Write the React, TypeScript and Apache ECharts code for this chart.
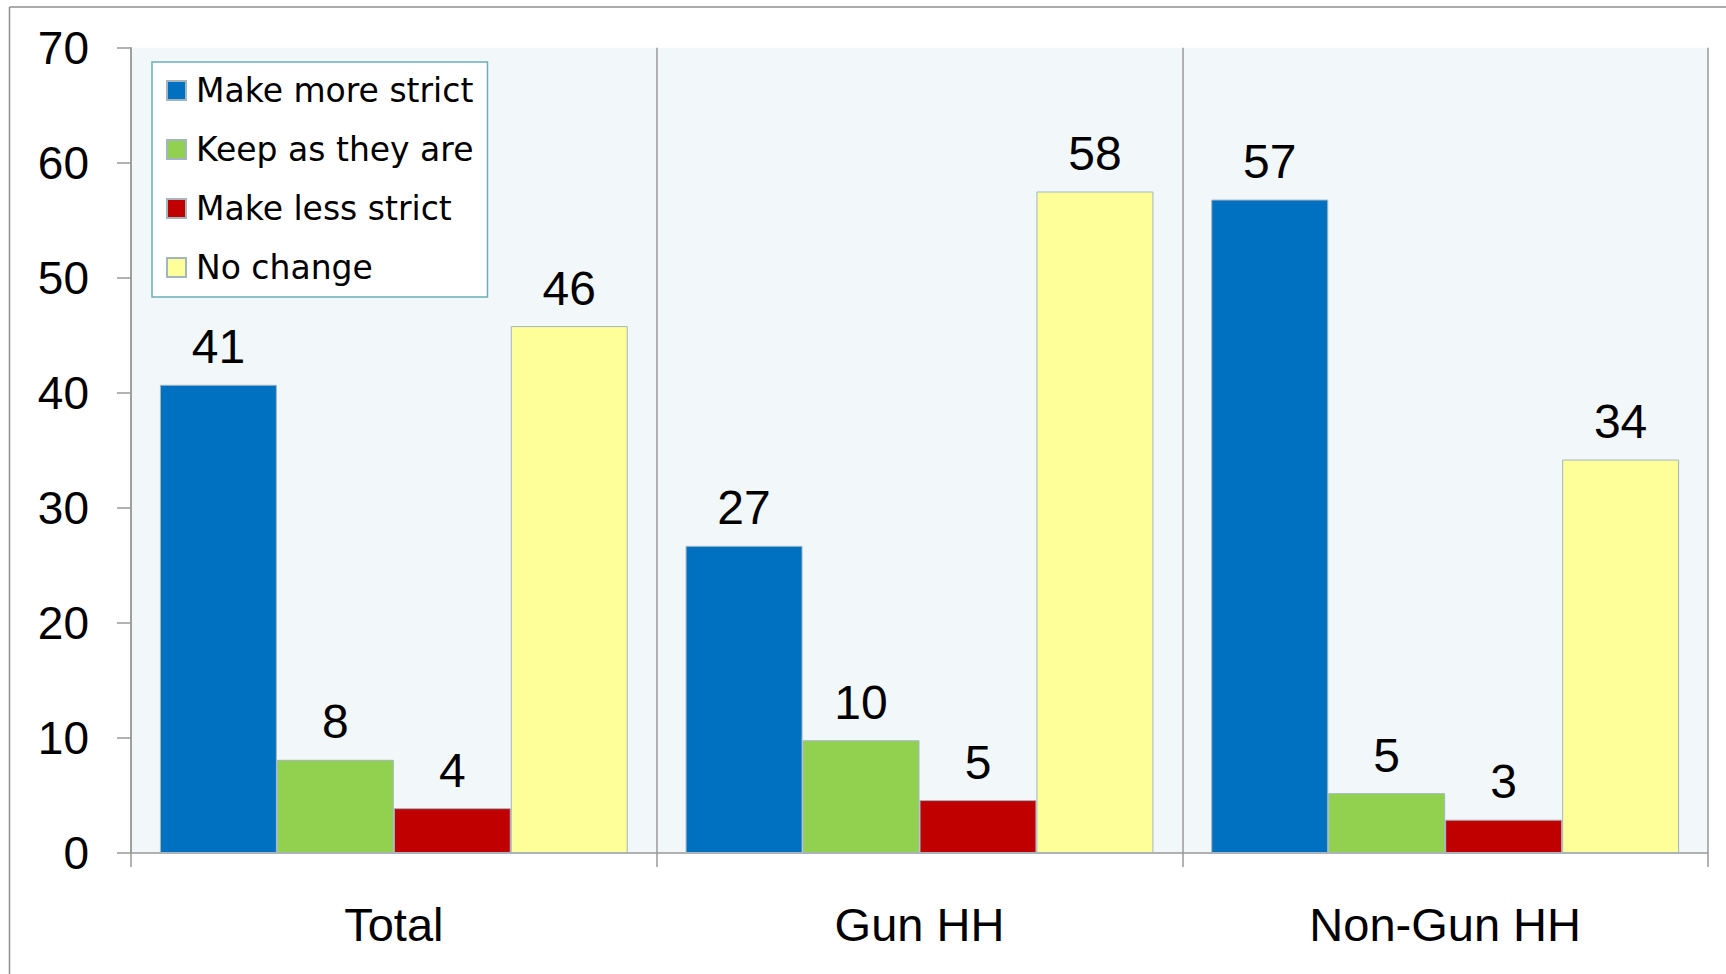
import React, { useEffect, useRef } from "react";
import * as echarts from "echarts";

const categories = ["Total", "Gun HH", "Non-Gun HH"];
const seriesNames = ["Make more strict", "Keep as they are", "Make less strict", "No change"];
const makeMoreStrict = [40.7, 26.7, 56.8];
const keepAsTheyAre = [8.1, 9.8, 5.2];
const makeLessStrict = [3.9, 4.6, 2.9];
const noChange = [45.8, 57.5, 34.2];
const seriesValues = [makeMoreStrict, keepAsTheyAre, makeLessStrict, noChange];
const seriesColors = ["#0070C0", "#92D050", "#C00000", "#FFFF99"];
const yTicks = { min: 0, max: 70, interval: 10 };

const FONT = "'Liberation Sans', Arial, sans-serif";

export default function App() {
  const ref = useRef<HTMLDivElement>(null);
  useEffect(() => {
    if (!ref.current) return;
    const chart = echarts.init(ref.current, undefined, { renderer: "svg" });
    chart.setOption({
      animation: false,
      backgroundColor: "#ffffff",
      graphic: [
        { type: "line", shape: { x1: 9.5, y1: 7, x2: 1726, y2: 7 }, style: { stroke: "#8f8f8f", lineWidth: 1.5 } },
        { type: "line", shape: { x1: 9.5, y1: 7, x2: 9.5, y2: 974 }, style: { stroke: "#8f8f8f", lineWidth: 1.5 } },
      ],
      legend: {
        orient: "vertical",
        left: 152,
        top: 62,
        data: seriesNames,
        icon: "rect",
        itemWidth: 19,
        itemHeight: 19,
        itemGap: 26,
        padding: [12, 14, 13, 14],
        backgroundColor: "#ffffff",
        borderColor: "#6aaeb8",
        borderWidth: 1.5,
        textStyle: {
          fontFamily: "'DejaVu Sans', sans-serif",
          fontSize: 33,
          color: "#000",
          lineHeight: 32,
          padding: [0, 0, 0, 5],
        },
      },
      grid: {
        left: 131,
        right: 18,
        top: 47.7,
        bottom: 121,
        show: true,
        backgroundColor: "#F2F7FA",
        borderWidth: 0,
      },
      xAxis: {
        type: "category",
        data: categories,
        axisLine: { show: true, lineStyle: { color: "#999999", width: 1.5 } },
        axisTick: { show: true, length: 14, lineStyle: { color: "#999999", width: 1.5 } },
        splitLine: { show: true, lineStyle: { color: "#999999", width: 1.5 } },
        axisLabel: {
          fontFamily: FONT,
          fontSize: 47,
          color: "#000",
          margin: 48,
          lineHeight: 47,
        },
      },
      yAxis: {
        type: "value",
        min: yTicks.min,
        max: yTicks.max,
        interval: yTicks.interval,
        axisLine: { show: true, lineStyle: { color: "#999999", width: 1.5 } },
        axisTick: { show: true, length: 14, lineStyle: { color: "#999999", width: 1.5 } },
        splitLine: { show: false },
        axisLabel: {
          fontFamily: FONT,
          fontSize: 46,
          color: "#000",
          margin: 42,
          lineHeight: 46,
        },
      },
      series: seriesNames.map((name, i) => ({
        name,
        type: "bar",
        data: seriesValues[i],
        barGap: "0%",
        barCategoryGap: "11%",
        itemStyle: { color: seriesColors[i], borderColor: "#A3B6BF", borderWidth: 1 },
        label: {
          show: true,
          position: "top",
          distance: 14,
          fontFamily: FONT,
          fontSize: 48,
          lineHeight: 48,
          color: "#000",
          formatter: (p: any) => String(Math.round(p.value)),
        },
      })),
    });
    return () => chart.dispose();
  }, []);
  return (
    <div
      ref={ref}
      style={{ position: "fixed", left: 0, top: 0, width: 1726, height: 974 }}
    />
  );
}
